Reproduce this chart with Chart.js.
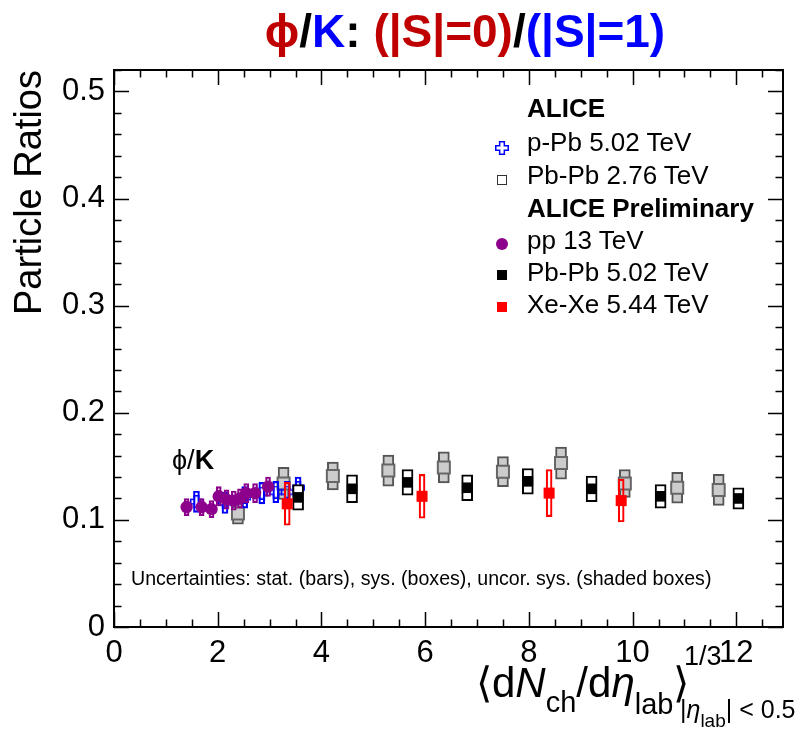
<!DOCTYPE html>
<html>
<head>
<meta charset="utf-8">
<script src="https://cdn.jsdelivr.net/npm/chart.js@4.4.1/dist/chart.umd.min.js"></script>
<style>
  body { margin: 0; background: #fff; }
  #wrap { position: relative; width: 800px; height: 733px; font-family: "Liberation Sans", Arial, sans-serif; }
  #wrap .t { position: absolute; white-space: nowrap; line-height: 1; }
  .title { left: 0; width: 930px; top: 8px; text-align: center; font-size: 46px; font-weight: bold; }
  .red { color: #c00000; }
  .blue { color: #0000ff; }
  .leg { font-size: 26px; }
  .legb { font-size: 26px; font-weight: bold; }
  .mk { position: absolute; box-sizing: border-box; }
</style>
</head>
<body>
<div id="wrap">
  <canvas id="myChart" width="800" height="733"></canvas>

  <div class="t title"><span class="red">ϕ</span>/<span class="blue">K</span>: <span class="red">(|S|=0)</span>/<span class="blue">(|S|=1)</span></div>

  <div class="t legb" style="left:527px; top:95px;">ALICE</div>
  <div class="t leg" style="left:527px; top:129px;">p-Pb 5.02 TeV</div>
  <div class="t leg" style="left:527px; top:162px;">Pb-Pb 2.76 TeV</div>
  <div class="t legb" style="left:527px; top:195px;">ALICE Preliminary</div>
  <div class="t leg" style="left:527px; top:227px;">pp 13 TeV</div>
  <div class="t leg" style="left:527px; top:259px;">Pb-Pb 5.02 TeV</div>
  <div class="t leg" style="left:527px; top:291px;">Xe-Xe 5.44 TeV</div>

  <canvas class="mk" id="legCross" width="14" height="14" style="left:495px; top:141px;"></canvas>
  <div class="mk" style="left:497px; top:175px; width:10px; height:10px; border:1.5px solid #333;"></div>
  <div class="mk" style="left:496px; top:238px; width:12px; height:12px; border-radius:50%; background:#8c008c;"></div>
  <div class="mk" style="left:497px; top:270px; width:10px; height:10px; background:#000;"></div>
  <div class="mk" style="left:497px; top:302px; width:10px; height:10px; background:#ff0000;"></div>

  <div class="t" style="left:172px; top:447px; font-size:27px;">ϕ/<b>K</b></div>
  <div class="t" style="left:131px; top:569px; font-size:19.6px;">Uncertainties: stat. (bars), sys. (boxes), uncor. sys. (shaded boxes)</div>

  <div class="t" style="left:476px; top:662px; font-size:42px;">⟨d<i>N</i><sub style="font-size:29px; vertical-align:-15px;">ch</sub>/d<i>η</i><sub style="font-size:29px; vertical-align:-17px;">lab</sub>⟩</div>
  <div class="t" style="left:684px; top:643px; font-size:27px;">1/3</div>
  <div class="t" style="left:680px; top:697px; font-size:25px;">|<i>η</i><sub style="font-size:19px; vertical-align:-9px;">lab</sub>| &lt; 0.5</div>
</div>

<script>
// phi/K vs <dNch/deta>^(1/3)
const ppX   = [1.40, 1.69, 1.88, 2.02, 2.17, 2.31, 2.43, 2.55, 2.72, 2.97];
const ppY   = [0.112, 0.112, 0.110, 0.122, 0.119, 0.118, 0.120, 0.125, 0.125, 0.131];
const ppSys = [0.008, 0.008, 0.008, 0.009, 0.009, 0.009, 0.009, 0.009, 0.009, 0.009];

const pPbX   = [1.59, 2.14, 2.52, 2.85, 3.12, 3.34, 3.55];
const pPbY   = [0.117, 0.116, 0.121, 0.125, 0.126, 0.126, 0.130];
const pPbSys = [0.010, 0.010, 0.010, 0.010, 0.010, 0.010, 0.010];

const pbpb276X   = [2.39, 3.27, 4.22, 5.29, 6.36, 7.50, 8.62, 9.85, 10.86, 11.66];
const pbpb276Y   = [0.106, 0.134, 0.141, 0.146, 0.149, 0.145, 0.153, 0.134, 0.130, 0.128];
const pbpb276Sys = [0.010, 0.015, 0.013, 0.0145, 0.0145, 0.014, 0.015, 0.013, 0.0145, 0.0145];

const pbpb502X   = [3.55, 4.59, 5.66, 6.81, 7.98, 9.21, 10.54, 12.04];
const pbpb502Y   = [0.121, 0.129, 0.135, 0.130, 0.136, 0.129, 0.122, 0.120];
const pbpb502Sys = [0.012, 0.013, 0.012, 0.012, 0.012, 0.012, 0.011, 0.010];

const xexeX   = [3.34, 5.94, 8.39, 9.78];
const xexeY   = [0.115, 0.122, 0.125, 0.118];
const xexeSys = [0.020, 0.0205, 0.022, 0.020];

const xTicks = [0, 2, 4, 6, 8, 10, 12];
const xTickLabels = ['0', '2', '4', '6', '8', '10', '12'];
const yTicks = [0, 0.1, 0.2, 0.3, 0.4, 0.5];
const yTickLabels = ['0', '0.1', '0.2', '0.3', '0.4', '0.5'];

const pts = (xs, ys) => xs.map((x, i) => ({ x: x, y: ys[i] }));
const boxes = (xs, ys, es) => xs.map((x, i) => ({ x: x, y: [ys[i] - es[i], ys[i] + es[i]] }));

// open cross marker
function openCross(size, color) {
    const c = document.createElement('canvas');
    c.width = size; c.height = size;
    const g = c.getContext('2d');
    const a = size / 3, m = 0.75;
    g.strokeStyle = color;
    g.lineWidth = 1.5;
    g.beginPath();
    g.moveTo(a, m); g.lineTo(2 * a, m); g.lineTo(2 * a, a); g.lineTo(size - m, a);
    g.lineTo(size - m, 2 * a); g.lineTo(2 * a, 2 * a); g.lineTo(2 * a, size - m);
    g.lineTo(a, size - m); g.lineTo(a, 2 * a); g.lineTo(m, 2 * a); g.lineTo(m, a); g.lineTo(a, a);
    g.closePath();
    g.stroke();
    return c;
}
const crossMarker = openCross(13, '#0000ff');
document.getElementById('legCross').getContext('2d').drawImage(openCross(14, '#0000ff'), 0, 0);

// frame with inward ticks on all four sides
const frameTicks = {
    id: 'frameTicks',
    afterDraw(chart) {
        const { ctx, chartArea: a, scales: { x, y } } = chart;
        ctx.save();
        ctx.strokeStyle = '#000';
        ctx.lineWidth = 1.5;
        ctx.beginPath();
        for (let v = 0; v <= 12.9; v += 0.5) {
            const px = Math.round(x.getPixelForValue(v)) + 0.5;
            const len = (v % 2 === 0) ? 15 : 7.5;
            ctx.moveTo(px, a.bottom); ctx.lineTo(px, a.bottom - len);
            ctx.moveTo(px, a.top); ctx.lineTo(px, a.top + len);
        }
        for (let k = 0; k <= 26; k++) {
            const v = k * 0.02;
            const py = Math.round(y.getPixelForValue(v)) + 0.5;
            const len = (k % 5 === 0) ? 15 : 7.5;
            ctx.moveTo(a.left, py); ctx.lineTo(a.left + len, py);
            ctx.moveTo(a.right, py); ctx.lineTo(a.right - len, py);
        }
        ctx.stroke();
        ctx.lineWidth = 2;
        ctx.strokeRect(a.left, a.top, a.right - a.left, a.bottom - a.top);
        ctx.restore();
    }
};

const ctx = document.getElementById('myChart').getContext('2d');
const myChart = new Chart(ctx, {
    type: 'scatter',
    data: {
        datasets: [
            {
                type: 'bar', label: 'Xe-Xe sys', order: 1,
                data: boxes(xexeX, xexeY, xexeSys),
                backgroundColor: 'rgba(0,0,0,0)', borderColor: '#ff0000', borderWidth: 1.5,
                borderSkipped: false, barThickness: 6, grouped: false
            },
            {
                label: 'Xe-Xe 5.44 TeV', order: 0,
                data: pts(xexeX, xexeY),
                pointStyle: 'rect', pointRadius: 7.8, backgroundColor: '#ff0000', borderWidth: 0
            },
            {
                type: 'bar', label: 'Pb-Pb 5.02 sys', order: 3,
                data: boxes(pbpb502X, pbpb502Y, pbpb502Sys),
                backgroundColor: '#ffffff', borderColor: '#000', borderWidth: 2,
                borderSkipped: false, barThickness: 11, grouped: false
            },
            {
                label: 'Pb-Pb 5.02 TeV', order: 2,
                data: pts(pbpb502X, pbpb502Y),
                pointStyle: 'rect', pointRadius: 7.5, backgroundColor: '#000', borderWidth: 0
            },
            {
                type: 'bar', label: 'pp sys', order: 5,
                data: boxes(ppX, ppY, ppSys),
                backgroundColor: 'rgba(0,0,0,0)', borderColor: '#8c008c', borderWidth: 1.5,
                borderSkipped: false, barThickness: 5, grouped: false
            },
            {
                label: 'pp 13 TeV', order: 4,
                data: pts(ppX, ppY),
                pointStyle: 'circle', pointRadius: 6.2, backgroundColor: '#8c008c', borderWidth: 0
            },
            {
                type: 'bar', label: 'p-Pb sys', order: 7,
                data: boxes(pPbX, pPbY, pPbSys),
                backgroundColor: 'rgba(0,0,0,0)', borderColor: '#0000ff', borderWidth: 1.5,
                borderSkipped: false, barThickness: 6, grouped: false
            },
            {
                label: 'p-Pb 5.02 TeV', order: 6,
                data: pts(pPbX, pPbY),
                pointStyle: crossMarker
            },
            {
                type: 'bar', label: 'Pb-Pb 2.76 sys', order: 9,
                data: boxes(pbpb276X, pbpb276Y, pbpb276Sys),
                backgroundColor: '#cccccc', borderColor: '#555555', borderWidth: 2,
                borderSkipped: false, barThickness: 11, grouped: false
            },
            {
                label: 'Pb-Pb 2.76 TeV', order: 8,
                data: pts(pbpb276X, pbpb276Y),
                pointStyle: 'rect', pointRadius: 8.5, backgroundColor: '#cccccc',
                borderColor: '#666666', borderWidth: 2
            }
        ]
    },
    options: {
        responsive: false,
        animation: false,
        devicePixelRatio: 1,
        layout: { padding: { top: 70, right: 17, left: 0, bottom: 0 } },
        plugins: {
            legend: { display: false },
            tooltip: { enabled: false }
        },
        scales: {
            x: {
                type: 'linear', min: 0, max: 12.9, offset: false,
                grid: { display: false },
                border: { display: false },
                afterBuildTicks: s => { s.ticks = xTicks.map(v => ({ value: v })); },
                afterFit: s => { s.height = 106; },
                ticks: {
                    padding: 0, color: '#000',
                    font: { family: 'Liberation Sans', size: 31 },
                    maxRotation: 0, autoSkip: false,
                    callback: (v, i) => xTickLabels[i]
                }
            },
            y: {
                type: 'linear', min: 0, max: 0.52,
                grid: { display: false },
                border: { display: false },
                afterBuildTicks: s => { s.ticks = yTicks.map(v => ({ value: v })); },
                afterFit: s => { s.width = 114; },
                ticks: {
                    padding: 1, color: '#000',
                    font: { family: 'Liberation Sans', size: 31 },
                    callback: (v, i) => yTickLabels[i]
                },
                title: {
                    display: true, text: 'Particle Ratios', align: 'end', color: '#000',
                    font: { family: 'Liberation Sans', size: 38 },
                    padding: { top: 8, bottom: 0 }
                }
            }
        }
    },
    plugins: [frameTicks]
});
</script>
</body>
</html>
